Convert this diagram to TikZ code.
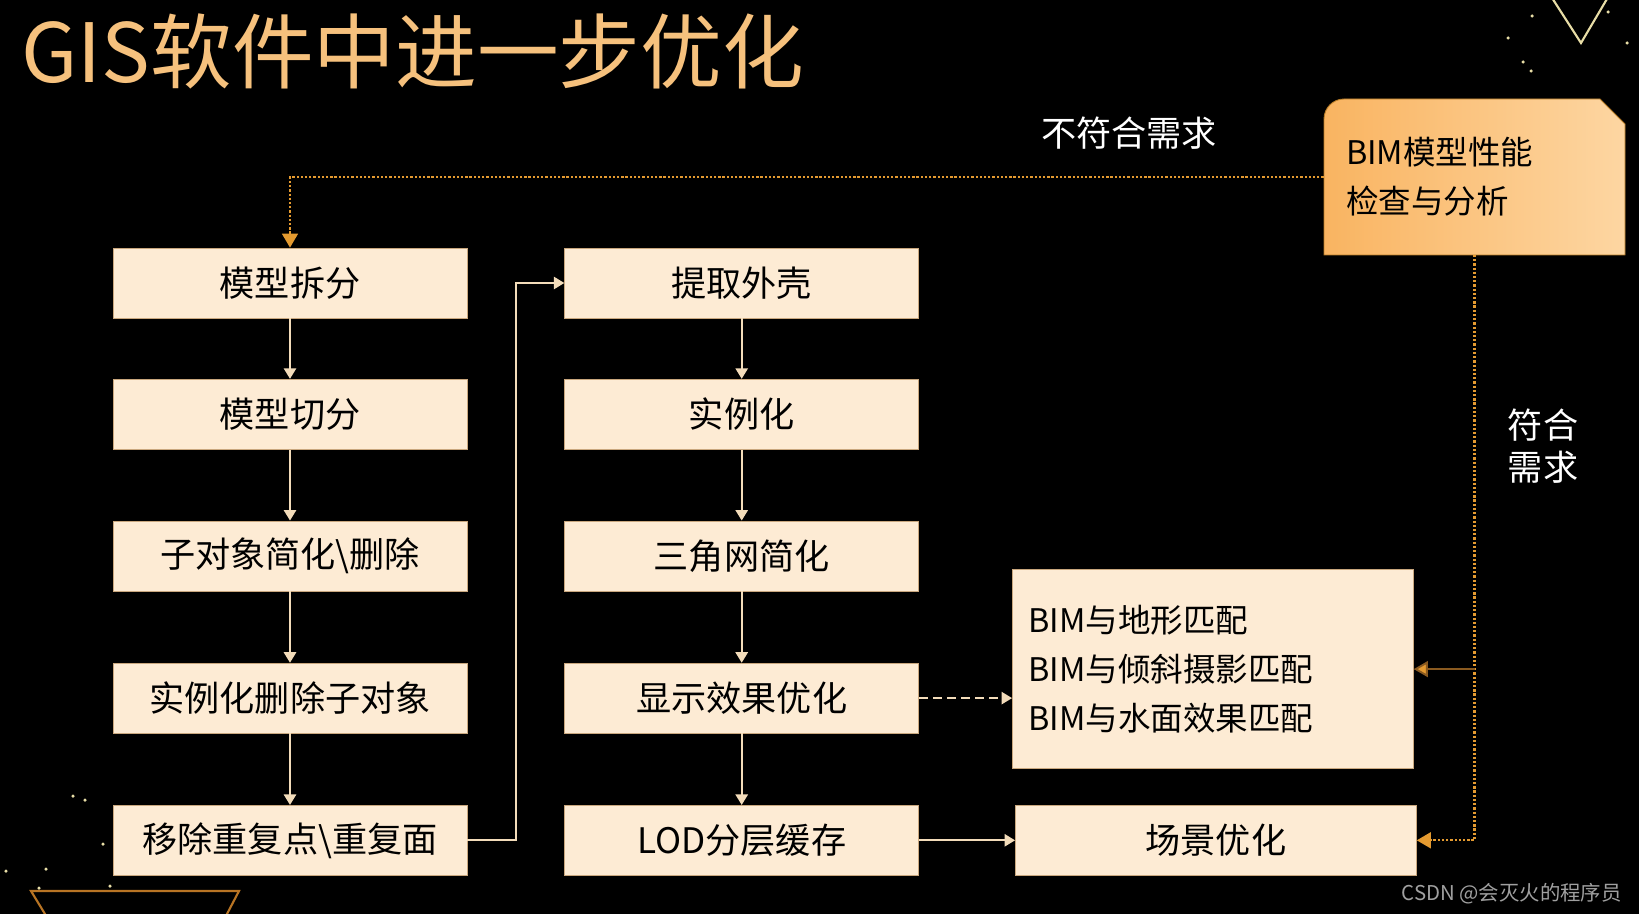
\documentclass[tikz,border=0pt]{standalone}
\usepackage{fontspec}
\setmainfont{Noto Sans CJK SC}
\usetikzlibrary{positioning,arrows.meta,calc}
\definecolor{titleOrange}{HTML}{F6C17D}
\definecolor{boxFill}{HTML}{FDEBD4}
\definecolor{boxLine}{HTML}{C9A77E}
\definecolor{lineCream}{HTML}{F3DCBA}
\definecolor{fbOrange}{HTML}{E49A30}
\definecolor{fbDark}{HTML}{8A5A20}
\definecolor{chkA}{HTML}{F9B461}
\definecolor{chkB}{HTML}{FDD6A2}
\definecolor{decoOrange}{HTML}{B87424}
\definecolor{decoPale}{HTML}{E8DDA6}
\definecolor{markGray}{HTML}{A0A0A0}

\begin{document}
\begin{tikzpicture}[
      box/.style={rectangle, draw=boxLine, fill=boxFill, minimum width=7.08cm,
                  minimum height=1.4cm, inner sep=0pt, text=black,
                  font=\fontsize{20}{24}\selectfont},
      flow/.style={draw=lineCream, line width=1.1pt, -{Triangle[width=7pt,length=6pt]}},
      fbline/.style={draw=fbOrange, line width=1.3pt, dash pattern=on 1.3pt off 1.1pt,
                     -{Triangle[width=9pt,length=8pt,fill=fbOrange]}},
      note/.style={text=white, font=\fontsize{20}{24}\selectfont, align=center}]
      % background and frame
      \clip (0,0) rectangle (32.78,-18.28);
      \fill[black] (0,0) rectangle (32.78,-18.28);
      \draw[decoOrange, line width=1.2pt] (1.18,-18.74) -- (0.62,-17.82) -- (4.78,-17.82) -- (4.30,-18.74);
      \draw[decoPale, line width=1.2pt] (30.9,0.26) -- (31.62,-0.86) -- (32.28,0.26);
      \foreach \p in {(30.64,-0.32),(32.16,-0.24),(30.16,-0.76),(30.46,-1.24),(30.62,-1.42),(32.54,-0.86),
                      (1.46,-15.92),(1.70,-16.00),(0.92,-17.38),(0.12,-17.42),(0.78,-17.76),(2.20,-17.72),(2.06,-16.88)}
        \fill[decoPale] \p circle (0.035);
      % title
      \node[anchor=west, inner sep=0pt, text=titleOrange, font=\fontsize{46.5}{56}\selectfont] (title) at (0.42,-1.02) {GIS软件中进一步优化};
      % left column
      \node[box] (split) at (5.80,-5.66) {模型拆分};
      \node[box, below=1.21cm of split] (cut) {模型切分};
      \node[box, below=1.42cm of cut] (simplify) {子对象简化\textbackslash 删除};
      \node[box, below=1.43cm of simplify] (instdel) {实例化删除子对象};
      \node[box, below=1.43cm of instdel] (dedup) {移除重复点\textbackslash 重复面};
      % middle column
      \node[box, right=1.94cm of split] (shell) {提取外壳};
      \node[box, below=1.21cm of shell] (inst) {实例化};
      \node[box, below=1.42cm of inst] (tri) {三角网简化};
      \node[box, below=1.43cm of tri] (display) {显示效果优化};
      \node[box, below=1.43cm of display] (lod) {LOD分层缓存};
      % right column
      \node[box, right=1.92cm of lod, minimum width=8.02cm] (scene) {场景优化};
      \node[box, above=0.72cm of scene, xshift=-0.06cm, minimum height=3.98cm, text width=7.38cm,
            inner xsep=0.32cm, align=left, font=\fontsize{18.5}{27.8}\selectfont] (match)
            {BIM与地形匹配\\BIM与倾斜摄影匹配\\BIM与水面效果匹配};
      % check box
      \coordinate (chkSW) at (26.48,-5.10);
      \coordinate (chkNE) at (32.50,-1.98);
      \shade[left color=chkA, right color=chkB, draw=fbOrange!80!black, line width=0.5pt]
        (chkSW) -- ([yshift=-0.4cm]chkSW |- chkNE) arc[start angle=180, end angle=90, radius=0.4cm]
        -- ([xshift=-0.5cm]chkNE) -- ([yshift=-0.5cm]chkNE) -- (chkNE |- chkSW) -- cycle;
      \node[text width=5.14cm, inner xsep=0.44cm, minimum height=3.1cm, align=left, text=black,
            font=\fontsize{18.5}{27.8}\selectfont] (check) at ($(chkSW)!0.5!(chkNE)$)
            {BIM模型性能\\检查与分析};
      % labels
      \node[note] (nofit) at (22.58,-2.66) {不符合需求};
      \node[note, font=\fontsize{20}{23.8}\selectfont] (fit) at (30.86,-8.92) {符合\\需求};
      \node[anchor=east, text=markGray, inner sep=0pt, font=\fontsize{11.6}{14}\selectfont] (mark) at (32.44,-17.88) {CSDN @会灭火的程序员};
      % flow
      \draw[flow] (split) -- (cut);
      \draw[flow] (cut) -- (simplify);
      \draw[flow] (simplify) -- (instdel);
      \draw[flow] (instdel) -- (dedup);
      \draw[flow] (dedup.east) -- ++(0.98,0) |- (shell.west);
      \draw[flow] (shell) -- (inst);
      \draw[flow] (inst) -- (tri);
      \draw[flow] (tri) -- (display);
      \draw[flow] (display) -- (lod);
      \draw[flow, dash pattern=on 5pt off 3pt] (display.east) -- (display.east -| match.west);
      \draw[flow] (lod) -- (scene);
      % feedback
      \draw[fbline] (check.west) -| (split.north);
      \draw[fbline] (check.south) |- (scene.east);
      \draw[draw=fbDark, line width=1.1pt, -{Triangle[width=9pt,length=8pt,fill=fbOrange]}]
        (check.south |- match.east) -- (match.east);
    \end{tikzpicture}
\end{document}
